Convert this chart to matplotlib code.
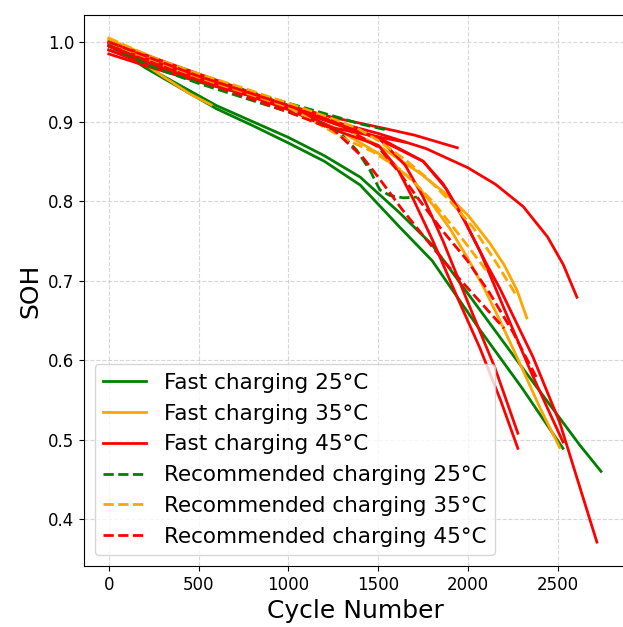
import matplotlib
matplotlib.use('Agg')
import matplotlib.pyplot as plt

# cicli e SOH (carica rapida / carica raccomandata)
g1_x = [0, 200, 400, 600, 800, 1000, 1200, 1400, 1620, 1800, 2066, 2300, 2622, 2740]
g1_y = [1.0, 0.97, 0.945, 0.92, 0.9, 0.88, 0.857, 0.83, 0.785, 0.745, 0.663, 0.591, 0.493, 0.46]
g2_x = [0, 200, 400, 600, 800, 1000, 1200, 1400, 1620, 1800, 2066, 2300, 2528]
g2_y = [0.998, 0.968, 0.942, 0.916, 0.895, 0.873, 0.85, 0.82, 0.767, 0.725, 0.638, 0.565, 0.489]

gd1_x = [0, 250, 500, 750, 1000, 1250, 1400, 1554]
gd1_y = [1.0, 0.975, 0.957, 0.94, 0.923, 0.907, 0.897, 0.889]
gd2_x = [0, 250, 500, 750, 1000, 1150, 1286, 1380, 1453, 1509, 1565, 1640, 1715]
gd2_y = [0.995, 0.968, 0.948, 0.93, 0.912, 0.9, 0.886, 0.864, 0.839, 0.814, 0.807, 0.804, 0.805]

o1_x = [0, 150, 300, 450, 570]
o1_y = [1.005, 0.98, 0.957, 0.935, 0.921]
o2_x = [0, 500, 1000, 1250, 1500, 1732, 1882, 2000, 2121, 2200, 2272, 2327]
o2_y = [1.003, 0.958, 0.92, 0.898, 0.87, 0.835, 0.808, 0.782, 0.747, 0.72, 0.688, 0.653]
o3_x = [0, 500, 1000, 1250, 1500, 1693, 1804, 1900, 1993, 2090, 2177, 2300, 2400, 2510]
o3_y = [1.0, 0.955, 0.915, 0.893, 0.86, 0.826, 0.795, 0.765, 0.73, 0.69, 0.65, 0.59, 0.54, 0.49]

od1_x = [0, 250, 500, 750, 1000, 1250, 1380, 1500, 1650, 1766, 1900, 2027, 2150, 2272]
od1_y = [1.005, 0.98, 0.96, 0.942, 0.923, 0.903, 0.892, 0.876, 0.852, 0.83, 0.8, 0.767, 0.725, 0.68]
od2_x = [0, 250, 500, 750, 1000, 1325, 1470, 1620, 1715, 1800, 1900, 2000, 2100]
od2_y = [1.0, 0.975, 0.955, 0.937, 0.918, 0.877, 0.862, 0.84, 0.82, 0.8, 0.772, 0.743, 0.713]

r1_x = [0, 250, 500, 750, 1000, 1250, 1500, 1700, 1940]
r1_y = [0.99, 0.968, 0.95, 0.935, 0.92, 0.905, 0.893, 0.883, 0.867]
r2_x = [0, 250, 500, 750, 1000, 1250, 1450, 1650]
r2_y = [0.995, 0.97, 0.952, 0.935, 0.918, 0.892, 0.883, 0.874]
r3_x = [0, 250, 500, 750, 1000, 1250, 1500, 1766, 1998, 2153, 2307, 2442, 2530, 2606]
r3_y = [0.985, 0.967, 0.95, 0.935, 0.918, 0.9, 0.885, 0.866, 0.842, 0.821, 0.793, 0.755, 0.72, 0.679]
r4_x = [0, 500, 1000, 1250, 1500, 1750, 1880, 1980, 2100, 2177, 2361, 2511, 2717]
r4_y = [0.99, 0.955, 0.917, 0.898, 0.88, 0.85, 0.815, 0.775, 0.722, 0.69, 0.604, 0.521, 0.371]
r5_x = [0, 500, 1000, 1250, 1500, 1604, 1700, 1804, 1938, 2066, 2180, 2277]
r5_y = [0.995, 0.955, 0.915, 0.89, 0.87, 0.842, 0.8, 0.75, 0.68, 0.615, 0.55, 0.489]
r6_x = [0, 500, 1000, 1250, 1500, 1650, 1750, 1860, 2000, 2150, 2277]
r6_y = [1.0, 0.96, 0.92, 0.898, 0.88, 0.845, 0.805, 0.75, 0.672, 0.59, 0.508]
r7_x = [0, 500, 1000, 1250, 1500, 1750, 1860, 1971, 2066, 2200, 2350, 2528]
r7_y = [0.995, 0.957, 0.92, 0.9, 0.878, 0.85, 0.822, 0.78, 0.737, 0.665, 0.585, 0.497]

rd1_x = [0, 500, 1000, 1250, 1500, 1620, 1732, 1860, 1993, 2121, 2250, 2383]
rd1_y = [1.0, 0.957, 0.92, 0.9, 0.868, 0.835, 0.8, 0.762, 0.726, 0.684, 0.635, 0.577]
rd2_x = [0, 500, 1000, 1250, 1414, 1500, 1631, 1766, 1882, 2000, 2100, 2200]
rd2_y = [0.995, 0.952, 0.912, 0.89, 0.855, 0.83, 0.79, 0.752, 0.72, 0.69, 0.665, 0.64]

fig = plt.figure(figsize=(6.23, 6.27), dpi=100)
ax = fig.add_axes([0.1348, 0.0973, 0.8726, 0.8788])

lw = 2
# carica rapida
ax.plot(g1_x, g1_y, color='green', lw=lw, label='Fast charging 25°C')
ax.plot(g2_x, g2_y, color='green', lw=lw)
ax.plot(o1_x, o1_y, color='orange', lw=lw, label='Fast charging 35°C')
ax.plot(o2_x, o2_y, color='orange', lw=lw)
ax.plot(o3_x, o3_y, color='orange', lw=lw)
ax.plot(r1_x, r1_y, color='red', lw=lw, label='Fast charging 45°C')
for xs, ys in [(r2_x, r2_y), (r3_x, r3_y), (r4_x, r4_y), (r5_x, r5_y), (r6_x, r6_y), (r7_x, r7_y)]:
    ax.plot(xs, ys, color='red', lw=lw)
# carica raccomandata
ax.plot(gd1_x, gd1_y, color='green', lw=lw, ls='--', label='Recommended charging 25°C')
ax.plot(gd2_x, gd2_y, color='green', lw=lw, ls='--')
ax.plot(od1_x, od1_y, color='orange', lw=lw, ls='--', label='Recommended charging 35°C')
ax.plot(od2_x, od2_y, color='orange', lw=lw, ls='--')
ax.plot(rd1_x, rd1_y, color='red', lw=lw, ls='--', label='Recommended charging 45°C')
ax.plot(rd2_x, rd2_y, color='red', lw=lw, ls='--')

ax.set_xlim(-138, 2888)
ax.set_ylim(0.341, 1.034)
ax.set_xticks([0, 500, 1000, 1500, 2000, 2500])
ax.set_yticks([0.4, 0.5, 0.6, 0.7, 0.8, 0.9, 1.0])
ax.tick_params(labelsize=12)
ax.grid(True, linestyle='--', alpha=0.5)
ax.set_xlabel('Cycle Number', fontsize=18)
ax.set_ylabel('SOH', fontsize=18)
ax.legend(loc='lower left', fontsize=15.5)

fig.savefig('out.png', dpi=100)
